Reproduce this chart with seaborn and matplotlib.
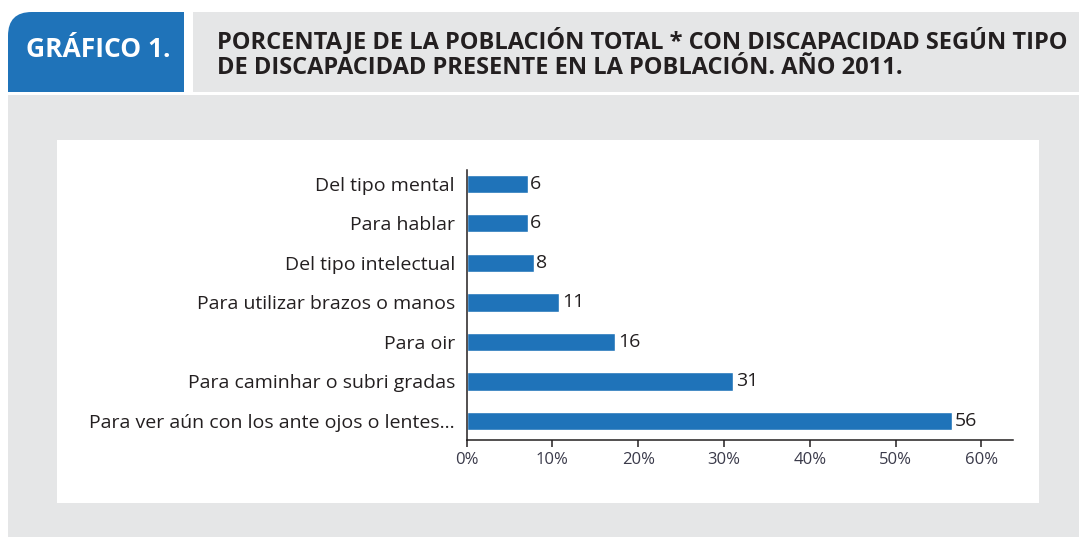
import matplotlib
matplotlib.use('Agg')
import matplotlib.pyplot as plt
import seaborn as sns
import pandas as pd
from matplotlib.patches import Rectangle, FancyBboxPatch

# datos
categorias = ['Del tipo mental', 'Para hablar', 'Del tipo intelectual',
              'Para utilizar brazos o manos', 'Para oir',
              'Para caminhar o subri gradas',
              'Para ver aún con los ante ojos o lentes...']
largo_barra = [7.1, 7.1, 7.8, 10.8, 17.3, 31.1, 56.6]   # largo de las barras (%)
etiquetas = ['6', '6', '8', '11', '16', '31', '56']      # etiquetas sobre las barras
ticks = [0, 10, 20, 30, 40, 50, 60]
tick_labels = ['0%', '10%', '20%', '30%', '40%', '50%', '60%']

df = pd.DataFrame({'tipo': categorias, 'pct': largo_barra})

sns.set_theme(style='white')
plt.rcParams['font.family'] = ['Open Sans', 'DejaVu Sans']

W, H = 1079, 537
fig = plt.figure(figsize=(W / 100, H / 100), dpi=100)
fig.patch.set_facecolor('white')

AZUL = '#1f73b9'
GRIS = '#e5e6e7'
TXT = '#231f20'


def caja(x, y, w, h):
    # pixeles -> fraccion de figura (y desde arriba)
    return (x / W, 1 - (y + h) / H), w / W, h / H


def rect(x, y, w, h, color):
    xy, ww, hh = caja(x, y, w, h)
    fig.patches.append(Rectangle(xy, ww, hh, transform=fig.transFigure,
                                 facecolor=color, edgecolor='none', zorder=-10))


# pestaña azul con esquina superior izquierda redondeada
xy, ww, hh = caja(8, 12, 176, 80)
fig.patches.append(FancyBboxPatch(xy, ww, hh, boxstyle='round,pad=0,rounding_size=0.022',
                                  transform=fig.transFigure, mutation_aspect=W / H,
                                  facecolor=AZUL, edgecolor='none', zorder=-10))
rect(60, 12, 124, 80, AZUL)
rect(8, 50, 176, 42, AZUL)
rect(193, 12, W - 193, 80, GRIS)      # caja del titulo
rect(8, 95, W - 8, H - 95, GRIS)      # panel gris
rect(57, 140, 982, 363, 'white')      # panel blanco

fig.text(26 / W, 1 - 57 / H, 'GRÁFICO 1.', color='white', fontsize=19,
         fontweight='bold', va='baseline', ha='left')
fig.text(217 / W, 1 - 48 / H, 'PORCENTAJE DE LA POBLACIÓN TOTAL * CON DISCAPACIDAD SEGÚN TIPO',
         color=TXT, fontsize=17, fontweight='bold', va='baseline', ha='left')
fig.text(217 / W, 1 - 74 / H, 'DE DISCAPACIDAD PRESENTE EN LA POBLACIÓN. AÑO 2011.',
         color=TXT, fontsize=17, fontweight='bold', va='baseline', ha='left')

ax = fig.add_axes([466.7 / W, 1 - 440 / H, (1013 - 466.7) / W, (440 - 170) / H])
ax.set_zorder(5)
ax.patch.set_alpha(0)
sns.barplot(data=df, x='pct', y='tipo', color=AZUL, width=0.46, saturation=1,
            orient='h', ax=ax)
ax.bar_label(ax.containers[0], labels=etiquetas, padding=2, fontsize=14, color=TXT)

ax.set_xlim(0, 63.7)
ax.set_ylim(6.48, -0.35)
ax.set_xticks(ticks)
ax.set_xticklabels(tick_labels, fontsize=12, color='#3a3a4a')
ax.set_xlabel('')
ax.set_ylabel('')
ax.tick_params(axis='y', length=0, pad=8.5, labelsize=14, labelcolor=TXT)
ax.tick_params(axis='x', direction='out', length=5, width=1.1, color=TXT, pad=4,
               bottom=True)
sns.despine(ax=ax)
for s in ['left', 'bottom']:
    ax.spines[s].set_color(TXT)
    ax.spines[s].set_linewidth(1.1)

fig.savefig('out.png', dpi=100, facecolor=fig.get_facecolor())
